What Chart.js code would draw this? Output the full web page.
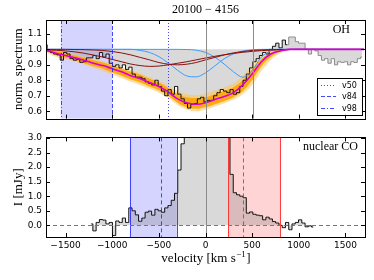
<!DOCTYPE html>
<html><head><meta charset="utf-8">
<script src="https://cdn.jsdelivr.net/npm/chart.js@4/dist/chart.umd.min.js"></script>
<style>
html,body{margin:0;padding:0;background:#fff;}
#wrap{position:relative;width:374px;height:280px;overflow:hidden;}
canvas{position:absolute;left:0;}
</style></head><body>
<div id="wrap">
<canvas id="c1" width="374" height="128" style="top:0"></canvas>
<canvas id="c2" width="374" height="152" style="top:128px"></canvas>
</div>
<script>
// ---------- data ----------
const xTicks = [-1500,-1000,-500,0,500,1000,1500];
const ohYTicks = [0.6,0.7,0.8,0.9,1.0,1.1];
const coYTicks = [0,0.5,1,1.5,2,2.5,3];
const xRange = [-1710,1710];
const ohYRange = [0.552,1.19];
const coYRange = [-0.40,3.02];

const ohVel = [-1715,-1680,-1645,-1610,-1575,-1540,-1505,-1470,-1435,-1400,-1365,-1330,-1295,-1260,-1225,-1190,-1155,-1120,-1085,-1050,-1015,-980,-945,-910,-875,-840,-805,-770,-735,-700,-665,-630,-595,-560,-525,-490,-455,-420,-385,-350,-315,-280,-245,-210,-175,-140,-105,-70,-35,0,35,70,105,140,175,210,245,280,315,350,385,420,455,490,525,560,595,630,665,700,735,770,805,840,875,910,945,980,1015,1050,1085,1120,1155,1190,1225,1260,1295,1330,1365,1400,1435,1470,1505,1540,1575,1610,1645,1680];
const ohFlux = [1.03,0.99,0.98,0.97,0.965,0.93,0.98,0.97,0.94,0.93,
0.935,0.916,0.92,0.945,0.945,0.96,0.94,0.98,0.95,0.97,
0.91,0.89,0.90,0.88,0.90,0.87,0.885,0.84,0.82,0.82,
0.81,0.79,0.78,0.77,0.80,0.76,0.73,0.70,0.74,0.71,
0.76,0.71,0.68,0.65,0.62,0.645,0.65,0.68,0.69,0.66,
0.67,0.67,0.70,0.72,0.74,0.73,0.72,0.74,0.71,0.72,
0.76,0.80,0.84,0.88,0.92,0.94,0.96,0.98,0.97,1.00,
1.02,1.04,1.01,1.06,1.03,1.08,1.08,1.05,1.04,1.04,
1.00,0.97,1.00,0.99,0.96,0.93,0.94,0.91,0.94,0.90,
0.92,0.915,0.92,0.90,0.92,0.915,0.94,0.95];
const ohFitLastIndex = 74;

const modelVel = [-1700,-1600,-1500,-1400,-1300,-1200,-1100,-1000,-900,-800,-700,-600,-500,-400,-300,-200,-100,0,100,200,300,400,500,600,700,800,900,1000,1100,1200,1300,1400,1500,1600,1700];
const bestFit   = [0.995,0.975,0.96,0.945,0.93,0.91,0.895,0.875,0.855,0.83, 0.81,0.785,0.76,0.725,0.68,0.655,0.645,0.655,0.675,0.695, 0.72,0.77,0.84,0.92,0.97,0.99,1.0,1.0,1.0,1.0, 1.0,1.0,1.0,1.0,1.0];
const bandHigh  = [1.0,0.99,0.975,0.96,0.945,0.93,0.915,0.895,0.875,0.855, 0.835,0.81,0.785,0.75,0.71,0.69,0.685,0.69,0.71,0.73, 0.755,0.80,0.87,0.94,0.98,0.995,1.0,1.0,1.0,1.0, 1.0,1.0,1.0,1.0,1.0];
const bandLow   = [0.985,0.96,0.945,0.93,0.91,0.89,0.875,0.85,0.83,0.805, 0.785,0.76,0.735,0.70,0.655,0.625,0.615,0.625,0.645,0.665, 0.69,0.73,0.80,0.89,0.95,0.985,0.998,1.0,1.0,1.0, 1.0,1.0,1.0,1.0,1.0];
const outerHigh = [1.0,0.995,0.985,0.97,0.955,0.94,0.925,0.905,0.885,0.865, 0.845,0.82,0.795,0.765,0.73,0.71,0.705,0.715,0.735,0.755, 0.78,0.83,0.90,0.96,0.99,1.0,1.0,1.0,1.0,1.0, 1.0,1.0,1.0,1.0,1.0];
const outerLow  = [0.98,0.95,0.935,0.92,0.90,0.88,0.86,0.835,0.815,0.79, 0.77,0.745,0.72,0.685,0.64,0.61,0.60,0.61,0.63,0.65, 0.675,0.71,0.77,0.86,0.93,0.975,0.995,1.0,1.0,1.0, 1.0,1.0,1.0,1.0,1.0];
const compBlue1 = [1.0,1.0,1.0,1.0,1.0,1.0,1.0,1.0,1.0,1.0, 0.993,0.98,0.953,0.912,0.865,0.828,0.822,0.848,0.893,0.939, 0.971,0.989,0.997,1.0,1.0,1.0,1.0,1.0,1.0,1.0, 1.0,1.0,1.0,1.0,1.0];
const compBlue2 = [1.0,1.0,1.0,1.0,1.0,1.0,1.0,1.0,1.0,1.0, 1.0,1.0,1.0,1.0,1.0,0.999,0.995,0.98,0.95,0.905, 0.855,0.82,0.865,0.95,0.99,1.0,1.0,1.0,1.0,1.0, 1.0,1.0,1.0,1.0,1.0];
const compRed1  = [1.0,1.0,1.0,0.999,0.998,0.996,0.993,0.986,0.977,0.964, 0.948,0.932,0.915,0.904,0.90,0.904,0.915,0.932,0.948,0.964, 0.977,0.986,0.993,0.996,0.998,0.999,1.0,1.0,1.0,1.0, 1.0,1.0,1.0,1.0,1.0];
const compRed2  = [0.997,0.994,0.99,0.984,0.975,0.963,0.95,0.935,0.92,0.905, 0.895,0.89,0.892,0.9,0.91,0.92,0.932,0.944,0.955,0.965, 0.974,0.981,0.987,0.992,0.995,0.997,0.999,1.0,1.0,1.0, 1.0,1.0,1.0,1.0,1.0];

const ohV50 = -400, ohV84 = -1000, ohV98 = -1552;
const ohSpan = [-1552,-1000];
const ohRefLines = [0,510];

const coVel = [-1225,-1190,-1155,-1120,-1085,-1050,-1015,-980,-945,-910,-875,-840,-805,-770,-735,-700,-665,-630,-595,-560,-525,-490,-455,-420,-385,-350,-315,-280,-245,-210,-175,-140,-105,-70,-35,0,35,70,105,140,175,210,245,280,315,350,385,420,455,490,525,560,595,630,665,700,735,770,805,840,875,910,945,980,1015,1050,1085,1120,1155];
const coFlux = [0.05,-0.19,0.1,0.2,0.18,0.05,0.1,-0.35,0.15,0.1,
0.25,0.1,0.6,0.5,0.36,0.14,0.25,0.45,0.49,0.35,
0.55,0.5,0.45,0.6,0.68,0.86,1.1,1.9,2.8,3.6,
4.5,5.4,6.2,6.8,7.1,7.3,7.2,6.9,6.3,5.6,
4.8,3.9,3.1,1.75,1.12,1.05,1.0,0.95,0.42,0.46,
0.38,0.35,0.33,0.19,0.28,0.22,0.13,0.08,0.0,-0.08,
0.1,-0.15,0.05,0.1,0.19,0.08,-0.05,-0.02,-0.06];
const coBlueSpan = [-810,-307], coBlueMid = -478;
const coRedSpan = [246,799], coRedMid = 403;

// ---------- helpers ----------
const pts = (xs, ys) => xs.map((v,i)=>({x:v,y:ys[i]}));
const fmtX = v => (v<0?'\u2212':'') + Math.abs(v);
const GREYFILL = 'rgba(128,128,128,0.30)';
const BLUE = 'rgba(40,40,255,0.85)';
const RED = 'rgba(255,30,30,0.85)';

const marksPlugin = {
  id:'marks',
  beforeDatasetsDraw(chart){
    const o = chart.options.plugins.marks; if(!o) return;
    const {ctx, chartArea:a, scales:{x}} = chart;
    ctx.save();
    (o.spans||[]).forEach(s=>{
      const x0=x.getPixelForValue(s.from), x1=x.getPixelForValue(s.to);
      ctx.fillStyle=s.color; ctx.fillRect(x0,a.top,x1-x0,a.bottom-a.top);
    });
    ctx.restore();
  },
  afterDatasetsDraw(chart){
    const o = chart.options.plugins.marks; if(!o) return;
    const {ctx, chartArea:a, scales:{x,y}} = chart;
    ctx.save();
    (o.vlines||[]).forEach(l=>{
      const px = Math.round(x.getPixelForValue(l.x))+0.5;
      ctx.strokeStyle=l.color; ctx.lineWidth=l.width||1; ctx.setLineDash(l.dash||[]);
      ctx.beginPath(); ctx.moveTo(px,a.top); ctx.lineTo(px,a.bottom); ctx.stroke();
    });
    (o.hlines||[]).forEach(l=>{
      const py = Math.round(y.getPixelForValue(l.y))+0.5;
      ctx.strokeStyle=l.color; ctx.lineWidth=l.width||1; ctx.setLineDash(l.dash||[]);
      ctx.beginPath(); ctx.moveTo(a.left,py); ctx.lineTo(a.right,py); ctx.stroke();
    });
    ctx.restore();
  },
  afterDraw(chart){
    const o = chart.options.plugins.marks; if(!o) return;
    const {ctx, chartArea:a, scales:{x,y}} = chart;
    ctx.save();
    ctx.strokeStyle='#000'; ctx.lineWidth=1; ctx.setLineDash([]);
    ctx.beginPath();
    xTicks.forEach(v=>{
      const px=Math.round(x.getPixelForValue(v))+0.5;
      ctx.moveTo(px,a.bottom); ctx.lineTo(px,a.bottom-4);
      ctx.moveTo(px,a.top); ctx.lineTo(px,a.top+4);
    });
    o.yTicks.forEach(v=>{
      const py=Math.round(y.getPixelForValue(v))+0.5;
      ctx.moveTo(a.left,py); ctx.lineTo(a.left+4,py);
      ctx.moveTo(a.right,py); ctx.lineTo(a.right-4,py);
    });
    ctx.stroke();
    ctx.strokeRect(Math.round(a.left)+0.5, Math.round(a.top)+0.5, Math.round(a.right-a.left), Math.round(a.bottom-a.top));
    // texts
    const serif = '"Liberation Serif", "DejaVu Serif", serif';
    ctx.fillStyle='#000';
    (o.texts||[]).forEach(t=>{
      ctx.save();
      ctx.font = t.font || ('12px '+serif);
      ctx.textAlign = t.align||'center'; ctx.textBaseline='middle';
      const tx = t.fromRight!=null ? a.right - t.fromRight : (t.x!=null ? t.x : (a.left+a.right)/2);
      const ty = t.fromTop!=null ? a.top + t.fromTop : (t.y!=null ? t.y : (a.top+a.bottom)/2);
      ctx.translate(tx,ty);
      if(t.rotate) ctx.rotate(t.rotate);
      ctx.fillText(t.text,0,0);
      ctx.restore();
    });
    if(o.legend){
      const w=45,h=37, lx=a.right-3-w, ly=a.bottom-4-h;
      ctx.fillStyle='#fff'; ctx.fillRect(lx,ly,w,h);
      ctx.strokeStyle='#000'; ctx.lineWidth=1; ctx.strokeRect(Math.round(lx)+0.5,Math.round(ly)+0.5,w,h);
      o.legend.forEach((e,i)=>{
        const yy = Math.round(ly+7+i*11.5)+0.5;
        ctx.strokeStyle=e.color; ctx.setLineDash(e.dash); ctx.lineWidth=1;
        ctx.beginPath(); ctx.moveTo(lx+4,yy); ctx.lineTo(lx+19,yy); ctx.stroke();
        ctx.setLineDash([]);
        ctx.fillStyle='#000'; ctx.font='8px "DejaVu Sans"'; ctx.textAlign='left'; ctx.textBaseline='middle';
        ctx.fillText(e.label, lx+25, yy);
      });
    }
    if(o.xtitle){
      const cx=(a.left+a.right)/2, cy=o.xtitle.y;
      const f1='13px '+serif, f2='9px '+serif;
      const p1='velocity [km s', p2='\u22121', p3=']';
      ctx.font=f1; const w1=ctx.measureText(p1).width, w3=ctx.measureText(p3).width;
      ctx.font=f2; const w2=ctx.measureText(p2).width;
      let sx = cx-(w1+w2+w3)/2;
      ctx.textAlign='left'; ctx.textBaseline='alphabetic'; ctx.fillStyle='#000';
      ctx.font=f1; ctx.fillText(p1,sx,cy); sx+=w1;
      ctx.font=f2; ctx.fillText(p2,sx+0.5,cy-5); sx+=w2+1;
      ctx.font=f1; ctx.fillText(p3,sx,cy);
    }
    ctx.restore();
  }
};

const tickFont = {family:'"DejaVu Sans"', size:9};
const yScale = (range, ticks, fmt) => ({
  type:'linear', min:range[0], max:range[1],
  afterBuildTicks: s => { s.ticks = ticks.map(v=>({value:v})); },
  afterFit: s => { s.width = 46; },
  grid:{display:false, drawTicks:false}, border:{display:false},
  ticks:{font:tickFont, color:'#000', padding:4, autoSkip:false, callback:fmt}
});

const line = (data, extra) => Object.assign({
  data, pointRadius:0, borderWidth:1, fill:false, tension:0
}, extra);

// ---------- top chart ----------
new Chart(document.getElementById('c1'), {
  type:'line',
  data:{datasets:[
    line(pts(ohVel,ohFlux), {stepped:'middle', borderWidth:0, borderColor:'rgba(0,0,0,0)', fill:{value:1}, backgroundColor:GREYFILL, order:10}),
    line(pts(modelVel,outerLow), {borderWidth:0, borderColor:'rgba(0,0,0,0)', cubicInterpolationMode:'monotone', order:9}),
    line(pts(modelVel,outerHigh), {borderWidth:0, borderColor:'rgba(0,0,0,0)', cubicInterpolationMode:'monotone', fill:'-1', backgroundColor:'rgba(255,195,90,0.55)', order:9}),
    line(pts(modelVel,bandLow), {borderWidth:0, borderColor:'rgba(0,0,0,0)', cubicInterpolationMode:'monotone', order:8}),
    line(pts(modelVel,bandHigh), {borderWidth:0, borderColor:'rgba(0,0,0,0)', cubicInterpolationMode:'monotone', fill:'-1', backgroundColor:'rgba(255,165,0,0.9)', order:8}),
    line(pts(ohVel.slice(0,ohFitLastIndex+1), ohFlux.slice(0,ohFitLastIndex+1)), {stepped:'middle', borderColor:'#111', order:6}),
    line(pts(ohVel.slice(ohFitLastIndex), ohFlux.slice(ohFitLastIndex)), {stepped:'middle', borderColor:'#8a8a8a', order:6}),
    line(pts(modelVel,compRed1), {borderColor:'#8b1010', cubicInterpolationMode:'monotone', order:4}),
    line(pts(modelVel,compRed2), {borderColor:'#8b1010', cubicInterpolationMode:'monotone', order:4}),
    line(pts(modelVel,compBlue1), {borderColor:'#3a9cff', cubicInterpolationMode:'monotone', order:4}),
    line(pts(modelVel,compBlue2), {borderColor:'#3a9cff', cubicInterpolationMode:'monotone', order:4}),
    line(pts(modelVel,bestFit), {borderColor:'#d800d8', borderWidth:1.6, cubicInterpolationMode:'monotone', order:2})
  ]},
  options:{
    responsive:false, animation:false, events:[],
    layout:{padding:{top:20,right:9,bottom:2,left:0}},
    scales:{
      x:{type:'linear', min:xRange[0], max:xRange[1], display:false},
      y:yScale(ohYRange, ohYTicks, v=>Number(v).toFixed(1))
    },
    plugins:{
      legend:{display:false}, tooltip:{enabled:false},
      marks:{
        yTicks: ohYTicks,
        spans:[{from:ohSpan[0], to:ohSpan[1], color:'rgba(0,0,255,0.17)'}],
        vlines:[
          {x:ohRefLines[0], color:'#8c8c8c'},
          {x:ohRefLines[1], color:'#8c8c8c'},
          {x:ohV50, color:BLUE, dash:[1,2]},
          {x:ohV84, color:BLUE, dash:[4,2]},
          {x:ohV98, color:BLUE, dash:[4,2,1,2]}
        ],
        texts:[
          {text:'20100 \u2212 4156', y:10},
          {text:'OH', fromRight:15, fromTop:10, align:'right'},
          {text:'norm. spectrum', x:19, rotate:-Math.PI/2, font:'13px "Liberation Serif", serif'}
        ],
        legend:[
          {label:'v50', color:BLUE, dash:[1,2]},
          {label:'v84', color:BLUE, dash:[4,2]},
          {label:'v98', color:BLUE, dash:[4,2,1,2]}
        ]
      }
    }
  },
  plugins:[marksPlugin]
});

// ---------- bottom chart ----------
new Chart(document.getElementById('c2'), {
  type:'line',
  data:{datasets:[
    line(pts(coVel,coFlux), {stepped:'middle', borderColor:'#111', fill:'origin', backgroundColor:GREYFILL})
  ]},
  options:{
    responsive:false, animation:false, events:[],
    layout:{padding:{top:3,right:9,bottom:0,left:0}},
    scales:{
      x:{type:'linear', min:xRange[0], max:xRange[1],
         afterBuildTicks: s => { s.ticks = xTicks.map(v=>({value:v})); },
         afterFit: s => { s.height = 43; },
         grid:{display:false, drawTicks:false}, border:{display:false},
         ticks:{font:tickFont, color:'#000', padding:3, autoSkip:false, maxRotation:0, callback:v=>fmtX(v)}},
      y:yScale(coYRange, coYTicks, v=>Number(v).toFixed(1))
    },
    plugins:{
      legend:{display:false}, tooltip:{enabled:false},
      marks:{
        yTicks: coYTicks,
        spans:[
          {from:coBlueSpan[0], to:coBlueSpan[1], color:'rgba(0,0,255,0.17)'},
          {from:coRedSpan[0], to:coRedSpan[1], color:'rgba(255,0,0,0.17)'}
        ],
        vlines:[
          {x:0, color:'#8c8c8c'},
          {x:coBlueSpan[0], color:BLUE}, {x:coBlueSpan[1], color:BLUE}, {x:coBlueMid, color:BLUE, dash:[4,3]},
          {x:coRedSpan[0], color:RED}, {x:coRedSpan[1], color:RED}, {x:coRedMid, color:RED, dash:[4,3]}
        ],
        hlines:[{y:0, color:'#777', dash:[4,3]}],
        texts:[
          {text:'nuclear CO', fromRight:7, fromTop:9, align:'right'},
          {text:'I [mJy]', x:19, rotate:-Math.PI/2, font:'13px "Liberation Serif", serif'}
        ],
        xtitle:{y:134}
      }
    }
  },
  plugins:[marksPlugin]
});
</script>
</body></html>
